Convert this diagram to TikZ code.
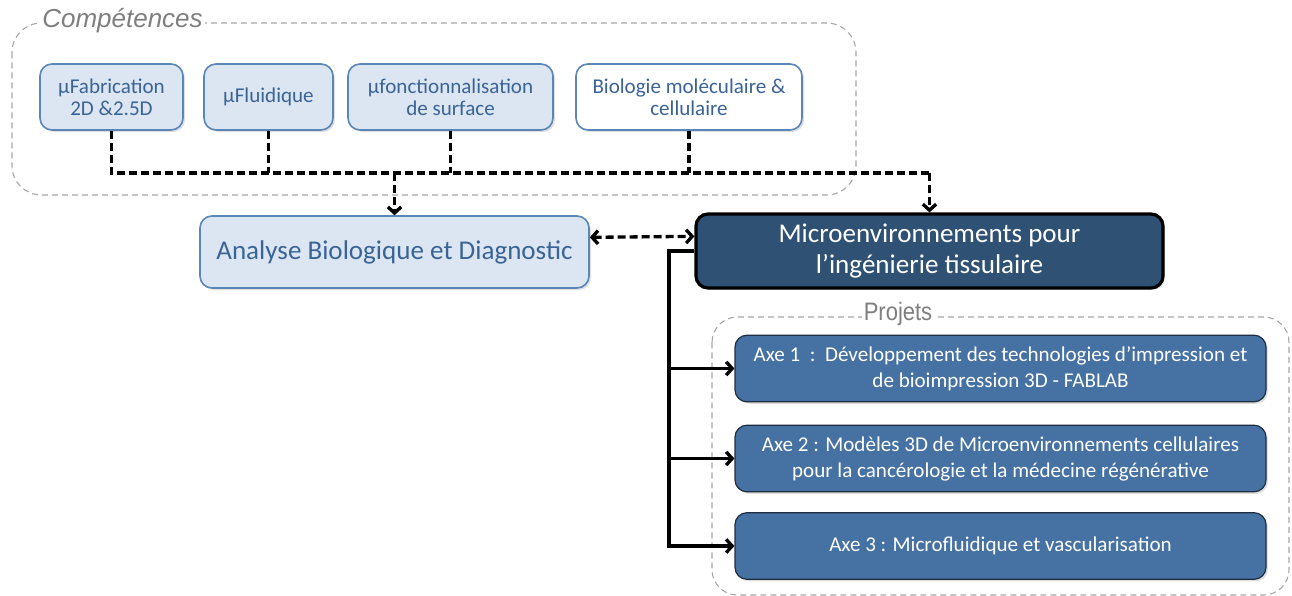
\documentclass[tikz,border=0pt]{standalone}
\usepackage{fontspec}
\setmainfont{Carlito}
\newfontfamily\labelfont{Liberation Sans}
\usetikzlibrary{arrows.meta,shadows}

\definecolor{boxfill}{HTML}{DCE6F2}
\definecolor{boxline}{HTML}{5B86B8}
\definecolor{boxtext}{HTML}{3A6495}
\definecolor{microfill}{HTML}{2F5174}
\definecolor{axefill}{HTML}{4572A3}
\definecolor{axeline}{HTML}{1E2E40}
\definecolor{labelgray}{HTML}{7F7F7F}
\definecolor{contgray}{HTML}{A6A6A6}

\begin{document}
\begin{tikzpicture}[x=0.75pt, y=-0.75pt,
    >={Straight Barb[length=4.5pt,width=10pt]},
    boxshadow/.style={drop shadow={shadow xshift=1.5pt, shadow yshift=-1.5pt, opacity=0.25}},
    compbox/.style={draw=boxline, line width=1.2pt, fill=boxfill, text=boxtext, rounded corners=9pt,
        minimum height=49.5pt, align=center, boxshadow, font=\fontsize{15.8}{16.5}\selectfont},
    bigbox/.style={compbox, minimum height=54pt, font=\fontsize{20.3}{23.3}\selectfont},
    microbox/.style={draw=black, line width=2.4pt, fill=microfill, text=white, rounded corners=9pt,
        minimum width=350.25pt, minimum height=55.5pt, align=center, boxshadow,
        font=\fontsize{20.3}{23.3}\selectfont},
    axebox/.style={draw=axeline, line width=0.9pt, fill=axefill, text=white, rounded corners=9pt,
        minimum width=398.25pt, minimum height=50pt, align=center, boxshadow,
        font=\fontsize{15.8}{19.5}\selectfont},
    container/.style={draw=contgray, line width=0.8pt, dash pattern=on 4.5pt off 3pt},
    grouplabel/.style={fill=white, text=labelgray, inner sep=1.5pt},
    dashline/.style={line width=2.5pt, dash pattern=on 6pt off 3pt},
    solidline/.style={line width=2.5pt}]

        \useasboundingbox (0,0) rectangle (1292,596);

        % groups
        \path[container, rounded corners=22pt] (12,23) rectangle (856,195);
        \node[grouplabel, font=\labelfont\itshape\fontsize{19.5}{20}\selectfont] (complabel) at (122.5,21) {Compétences};

        \path[container, rounded corners=19pt] (712,317) rectangle (1289,595);
        \node[grouplabel, yscale=1.15, font=\labelfont\fontsize{16.5}{18}\selectfont] (projlabel) at (898,314) {Projets};

        % boxes
        \node[compbox, minimum width=107.25pt] (fab) at (111.5,97) {μFabrication\\2D \&2.5D};
        \node[compbox, minimum width=96.75pt] (fluid) at (268.5,97) {μFluidique};
        \node[compbox, minimum width=153.75pt] (fonct) at (450.5,97) {μfonctionnalisation\\de surface};
        \node[compbox, fill=white, minimum width=169.5pt] (bio) at (689,97) {Biologie moléculaire \&\\cellulaire};

        \node[bigbox, minimum width=291.75pt] (analyse) at (394.5,252) {Analyse Biologique et Diagnostic};
        \node[microbox] (micro) at (929.5,251) {Microenvironnements pour\\l’ingénierie tissulaire};

        \node[axebox] (axe1) at (1000.5,368.5) {Axe 1~~:~~Développement des technologies d’impression et\\de bioimpression 3D - FABLAB};
        \node[axebox] (axe2) at (1000.5,458.5) {Axe 2 : Modèles 3D de Microenvironnements cellulaires\\pour la cancérologie et la médecine régénérative};
        \node[axebox] (axe3) at (1000.5,546) {Axe 3 : Microfluidique et vascularisation};

        % dashed links
        \coordinate (busR) at (929.5,173);
        \path[draw, dashline] (fab.south) |- (busR);
        \foreach \c in {fluid,fonct,bio}
            \path[draw, dashline] (\c.south) -- (\c.south |- busR);
        \path[draw, dashline, ->] (busR) -- (micro.north);
        \path[draw, dashline, ->] (analyse.north |- busR) -- (analyse.north);
        \path[draw, dashline, <->] ([yshift=11pt]analyse.east) -- ([yshift=11pt]micro.west);

        % solid links
        \coordinate (trunk) at (669,251);
        \path[draw, solidline, ->] (micro.west) -- (trunk) |- (axe3.west);
        \foreach \a in {axe1,axe2}
            \path[draw, solidline, ->] (trunk |- \a.west) -- (\a.west);

    \end{tikzpicture}
\end{document}
